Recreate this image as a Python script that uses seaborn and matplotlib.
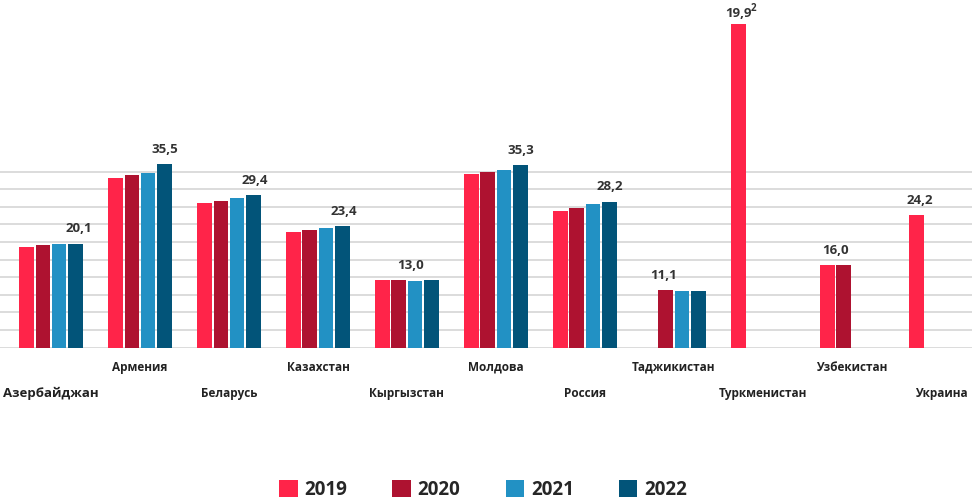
import numpy as np
import pandas as pd
import seaborn as sns
import matplotlib.pyplot as plt

# data
countries = ["Азербайджан", "Армения", "Беларусь", "Казахстан", "Кыргызстан", "Молдова",
             "Россия", "Таджикистан", "Туркменистан", "Узбекистан", "Украина"]
years = ["2019", "2020", "2021", "2022"]
nan = np.nan
v2019 = [19.4, 32.7, 27.9, 22.3, 13.0, 33.5, 26.4, nan, 62.5, 16.0, 25.6]
v2020 = [19.8, 33.3, 28.3, 22.7, 13.0, 34.0, 27.0, 11.1, nan, 16.0, nan]
v2021 = [20.1, 33.8, 28.9, 23.1, 12.9, 34.2, 27.7, 10.9, nan, nan, nan]
v2022 = [20.1, 35.5, 29.4, 23.4, 13.0, 35.3, 28.2, 10.9, nan, nan, nan]
value_labels = ["20,1", "35,5", "29,4", "23,4", "13,0", "35,3", "28,2", "11,1", "19,9", "16,0", "24,2"]
label_slot = [3.2, 3, 3.1, 3.1, 1.7, 3, 3, 0.9, 0, 0.5, 0.2]   # where over the group the label sits

colors = {"2019": "#ff2449", "2020": "#ae1230", "2021": "#2291c4", "2022": "#025479"}

df = pd.DataFrame({"country": countries, "2019": v2019, "2020": v2020,
                   "2021": v2021, "2022": v2022})
long = df.melt(id_vars="country", var_name="year", value_name="value").dropna()

sns.set_style("white")
plt.rcParams['font.family'] = ['Open Sans', 'DejaVu Sans']

fig = plt.figure(figsize=(9.72, 5.0), dpi=100)
ax = fig.add_axes([0, 0.3046, 1, 0.6954])

group_w = 0.737
sns.barplot(data=long, x="country", y="value", hue="year", order=countries,
            hue_order=years, palette=colors, width=group_w, gap=0.114,
            saturation=1, errorbar=None, linewidth=0, ax=ax)

ax.set_xlim(-0.573, 10.35)
ax.set_ylim(0, 67.1)
ax.set_yticks(np.arange(0, 34.1, 3.4))
ax.set_yticklabels([])
ax.set_xticks([])
ax.tick_params(length=0)
ax.yaxis.grid(True, color="#d9d9d9", linewidth=1.3)
ax.set_axisbelow(True)
ax.set_xlabel("")
ax.set_ylabel("")
sns.despine(ax=ax, left=True, bottom=True)

# value labels above the chosen bar
slot = group_w / 4
for i, lab in enumerate(value_labels):
    s = label_slot[i]
    vals = [v2019[i], v2020[i], v2021[i], v2022[i]]
    lo, hi = int(np.floor(s)), min(int(np.ceil(s)), 3)
    top = np.nanmax(vals[lo:hi + 1])
    x = i + (s - 1.5) * slot
    dy = 5 if i == 8 else 8
    ax.annotate(lab, (x, top), xytext=(0, dy), textcoords="offset points",
                ha="center", va="baseline", fontsize=9.5, fontweight="bold", color="#333333")
    if i == 8:
        ax.annotate("2", (x, top), xytext=(11, 9.5), textcoords="offset points",
                    ha="center", va="baseline", fontsize=7, fontweight="bold", color="#333333")

# country names in two staggered rows
for i, name in enumerate(countries):
    off = -14.1 if i % 2 else -32.8
    size = 9.5 if i == 0 else 8.5
    ax.annotate(name, (i, 0), xytext=(0, off), textcoords="offset points",
                ha="center", va="center", fontsize=size, fontweight="bold", color="#222222")

handles, labels = ax.get_legend_handles_labels()
if ax.get_legend():
    ax.get_legend().remove()
fig.legend(handles, labels, loc="center", bbox_to_anchor=(0.497, 0.02), ncol=4,
           frameon=False, prop={"size": 13.5, "weight": "bold"},
           handlelength=1.0, handleheight=1.0, handletextpad=0.35, columnspacing=2.4)

fig.savefig("out.png", dpi=100)
